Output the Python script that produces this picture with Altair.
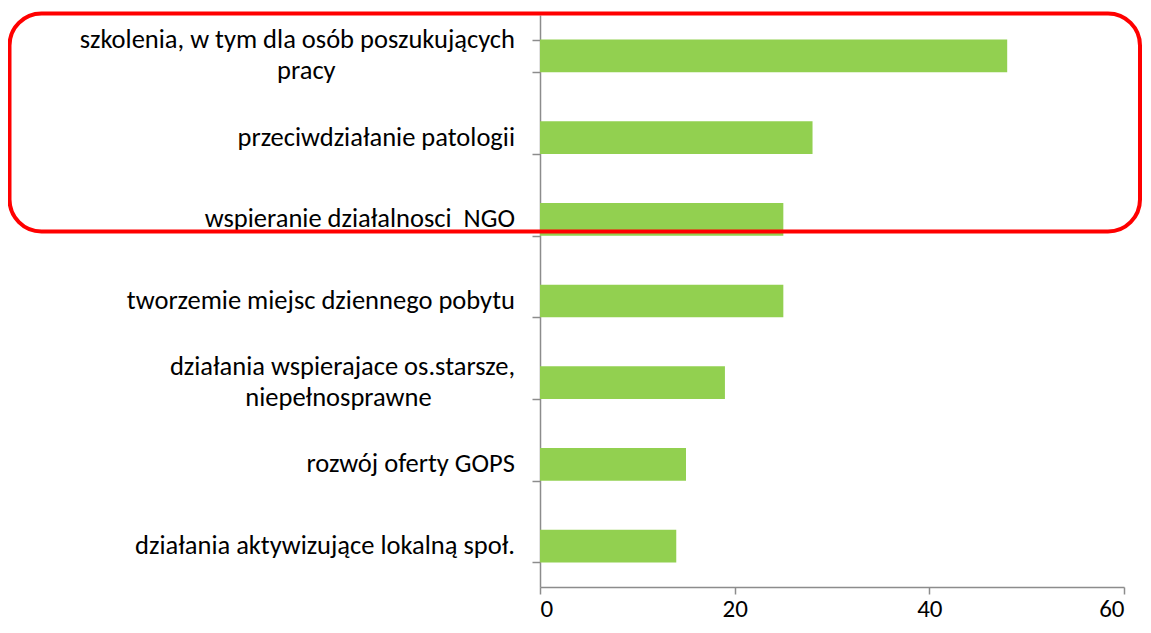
import altair as alt
import pandas as pd

categories = [
    "szkolenia, w tym dla osób poszukujących\npracy",
    "przeciwdziałanie patologii",
    "wspieranie działalnosci\u00a0 NGO",
    "tworzemie miejsc dziennego pobytu",
    "działania wspierajace os.starsze,\nniepełnosprawne",
    "rozwój oferty GOPS",
    "działania aktywizujące lokalną społ.",
]
values = [48, 28, 25, 25, 19, 15, 14]
x_ticks = [0, 20, 40, 60]

FONT = "Carlito, Lato, sans-serif"
FS = 26.5
AXIS_GRAY = "#8c8c8c"
BAR_GREEN = "#92D050"

bars_df = pd.DataFrame({"cat": categories, "value": values})

rows = []
for c in categories:
    parts = c.split("\n")
    if len(parts) == 1:
        rows.append({"cat": c, "kind": "single", "text": parts[0], "first": parts[0]})
    else:
        rows.append({"cat": c, "kind": "first", "text": parts[0], "first": parts[0]})
        rows.append({"cat": c, "kind": "second", "text": parts[1], "first": parts[0]})
labels_df = pd.DataFrame(rows)

y_enc = alt.Y(
    "cat:N",
    sort=categories,
    scale=alt.Scale(paddingInner=0.6, paddingOuter=0.3),
    axis=alt.Axis(
        labels=False, title=None, tickBand="extent", tickSize=8,
        domainColor=AXIS_GRAY, tickColor=AXIS_GRAY, domainWidth=1.5, tickWidth=1.5,
    ),
)

bars = alt.Chart(bars_df).mark_bar(color=BAR_GREEN).encode(
    x=alt.X(
        "value:Q",
        scale=alt.Scale(domain=[0, 60], nice=False),
        axis=alt.Axis(
            values=x_ticks, grid=False, title=None, tickSize=7,
            domainColor=AXIS_GRAY, tickColor=AXIS_GRAY, domainWidth=1.5, tickWidth=1.5,
            labelFont=FONT, labelFontSize=25, labelColor="#000000", labelPadding=2,
        ),
    ),
    y=y_enc,
)

base_lab = alt.Chart(labels_df)
single = base_lab.transform_filter("datum.kind == 'single'").mark_text(
    align="right", baseline="middle", font=FONT, fontSize=FS, color="#000000"
).encode(x=alt.value(-25), y=alt.Y("cat:N", sort=categories), text="text:N")

first = base_lab.transform_filter("datum.kind == 'first'").mark_text(
    align="right", baseline="middle", font=FONT, fontSize=FS, color="#000000", dy=-15.5
).encode(x=alt.value(-25), y=alt.Y("cat:N", sort=categories), text="text:N")

second = base_lab.transform_filter("datum.kind == 'second'").transform_calculate(
    lx="-25 - length(datum.first) * 10.7 / 2"
).mark_text(
    align="center", baseline="middle", font=FONT, fontSize=FS, color="#000000", dy=15.5
).encode(
    x=alt.X("lx:Q", scale=None, axis=None),
    y=alt.Y("cat:N", sort=categories),
    text="text:N",
)

frame = alt.Chart(pd.DataFrame({"a": [0]})).mark_rect(
    filled=False, stroke="#ff0000", strokeWidth=4, cornerRadius=32
).encode(
    x=alt.value(-530.5), x2=alt.value(600), y=alt.value(-1.5), y2=alt.value(216.5)
)

chart = alt.layer(bars, single, first, second, frame).properties(
    width=584, height=572,
    autosize=alt.AutoSizeParams(type="none"),
    padding={"left": 532, "top": 7, "right": 19, "bottom": 38},
).configure_view(stroke=None)

chart.save("out.html", embed_options={"renderer": "svg", "actions": False})
